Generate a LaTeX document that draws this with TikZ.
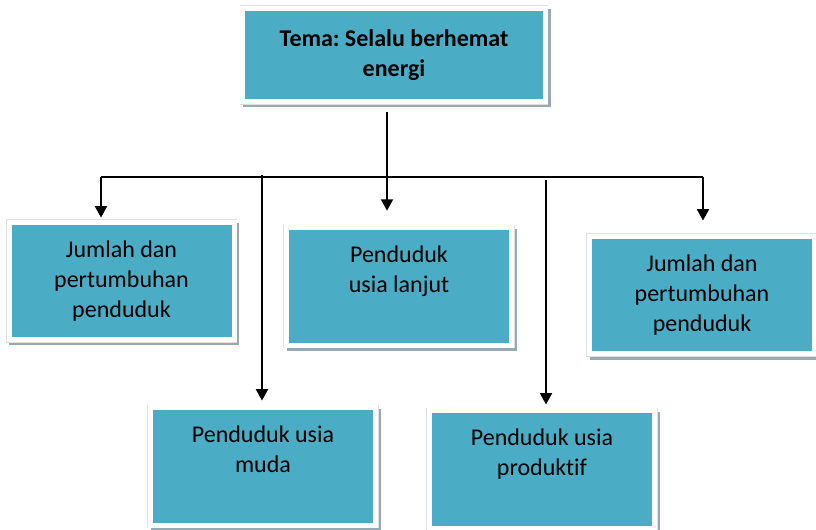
\documentclass[tikz,border=0pt]{standalone}
\usepackage{fontspec}
\setmainfont{Carlito}[Ligatures=NoCommon]
\usetikzlibrary{arrows.meta, positioning, calc}
\definecolor{temateal}{RGB}{75,172,198}
\definecolor{shadowgray}{RGB}{150,170,178}
\frenchspacing

\begin{document}
\begin{tikzpicture}[x=0.75pt, y=-0.75pt,
    box/.style={draw=white, line width=3.75pt, fill=temateal, rectangle, align=center, inner sep=0pt,
        minimum width=168.75pt, minimum height=88pt, font=\fontsize{18}{22.5}\selectfont,
        preaction={draw=shadowgray, fill=shadowgray, line width=3.75pt, transform canvas={xshift=2pt, yshift=-2.5pt}},
        preaction={draw=black!12, line width=4.6pt}},
    uptext/.style={text depth=26pt},
    conn/.style={line width=1.4pt},
    arr/.style={conn, -{Triangle[width=9pt, length=8.5pt]}}]
                \useasboundingbox (0,0) rectangle (816,530);

                \node [box, minimum width=227pt, minimum height=70pt, font=\fontsize{18}{22.5}\selectfont\bfseries] (tema) at (394,55) {Tema: Selalu berhemat\\energi};

                % Top row
                \node [box] (jumlahkiri) at (121.5,281) {Jumlah dan\\pertumbuhan\\penduduk};
                \node [box, uptext] (lanjut) at (399,286.5) {Penduduk\\usia lanjut};
                \node [box] (jumlahkanan) at (702,295) {Jumlah dan\\pertumbuhan\\penduduk};

                % Bottom row
                \node [box, uptext] (muda) at (263,466.5) {Penduduk usia\\muda};
                \node [box, uptext] (produktif) at (542,469.5) {Penduduk usia\\produktif};

                % Bus
                \coordinate (split) at (387,177);
                \coordinate (busL) at (101,177);
                \coordinate (busR) at (703,177);
                \coordinate (dropL) at (262,175);
                \coordinate (dropR) at (546,180);

                \draw[conn] (busL) -- (busR);
                \draw[arr, shorten <=6pt, shorten >=11pt] (tema.south -| split) -- (lanjut.north -| split);
                \draw[arr, shorten >=1.7pt] (busL) -- (jumlahkiri.north -| busL);
                \draw[arr, shorten >=10pt] (busR) -- (jumlahkanan.north -| busR);
                \draw[arr, shorten >=3.6pt] (dropL) -- (muda.north -| dropL);
                \draw[arr, shorten >=2.9pt] (dropR) -- (produktif.north -| dropR);
            \end{tikzpicture}
\end{document}
